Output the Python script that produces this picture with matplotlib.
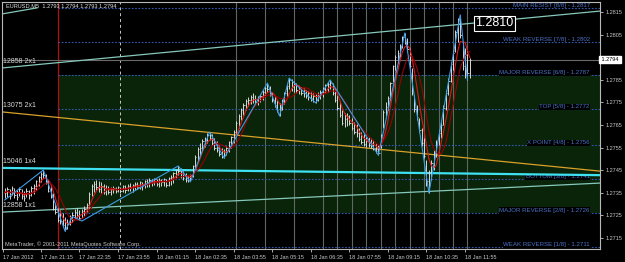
import numpy as np
import pandas as pd
import matplotlib
matplotlib.use('Agg')
import matplotlib.pyplot as plt

plt.rcParams['font.family'] = ['Liberation Sans', 'DejaVu Sans']

# EURUSD M5 bars from 17 Jan 2012 20:00
bar_high = [1.27371, 1.27375, 1.27366, 1.27380, 1.27371, 1.27362, 1.27375, 1.27366, 1.27358, 1.27371,
            1.27362, 1.27380, 1.27389, 1.27406, 1.27424, 1.27442, 1.27451, 1.27433, 1.27406, 1.27384,
            1.27349, 1.27305, 1.27287, 1.27273, 1.27260, 1.27242, 1.27233, 1.27251, 1.27264, 1.27278,
            1.27282, 1.27273, 1.27278, 1.27291, 1.27305, 1.27353, 1.27389, 1.27402, 1.27406, 1.27402,
            1.27397, 1.27389, 1.27384, 1.27380, 1.27375, 1.27380, 1.27375, 1.27380, 1.27375, 1.27384,
            1.27384, 1.27389, 1.27393, 1.27389, 1.27397, 1.27397, 1.27402, 1.27397, 1.27406, 1.27411,
            1.27415, 1.27411, 1.27415, 1.27411, 1.27415, 1.27411, 1.27415, 1.27411, 1.27420, 1.27429,
            1.27442, 1.27455, 1.27469, 1.27460, 1.27446, 1.27438, 1.27429, 1.27433, 1.27473, 1.27517,
            1.27552, 1.27570, 1.27588, 1.27597, 1.27615, 1.27619, 1.27610, 1.27593, 1.27579, 1.27557,
            1.27548, 1.27544, 1.27557, 1.27579, 1.27602, 1.27628, 1.27668, 1.27699, 1.27726, 1.27748,
            1.27765, 1.27774, 1.27783, 1.27792, 1.27783, 1.27779, 1.27788, 1.27805, 1.27823, 1.27836,
            1.27823, 1.27796, 1.27779, 1.27761, 1.27748, 1.27765, 1.27796, 1.27832, 1.27858, 1.27854,
            1.27845, 1.27836, 1.27823, 1.27819, 1.27814, 1.27805, 1.27801, 1.27796, 1.27792, 1.27788,
            1.27796, 1.27805, 1.27819, 1.27832, 1.27841, 1.27850, 1.27836, 1.27814, 1.27783, 1.27752,
            1.27717, 1.27703, 1.27703, 1.27695, 1.27681, 1.27664, 1.27655, 1.27637, 1.27619, 1.27610,
            1.27597, 1.27597, 1.27593, 1.27584, 1.27570, 1.27561, 1.27610, 1.27717, 1.27752, 1.27779,
            1.27841, 1.27916, 1.27960, 1.27983, 1.28009, 1.28045, 1.28058, 1.28036, 1.27991, 1.27903,
            1.27783, 1.27739, 1.27681, 1.27637, 1.27593, 1.27495, 1.27451, 1.27495, 1.27539, 1.27584,
            1.27628, 1.27664, 1.27739, 1.27805, 1.27858, 1.27930, 1.27983, 1.28071, 1.28124, 1.28138,
            1.28018, 1.27991, 1.27983, 1.27948]
bar_low = [1.27327, 1.27331, 1.27322, 1.27340, 1.27327, 1.27318, 1.27336, 1.27322, 1.27313, 1.27331,
           1.27322, 1.27336, 1.27344, 1.27362, 1.27380, 1.27398, 1.27415, 1.27389, 1.27353, 1.27327,
           1.27273, 1.27256, 1.27220, 1.27211, 1.27198, 1.27180, 1.27189, 1.27207, 1.27220, 1.27233,
           1.27238, 1.27229, 1.27238, 1.27247, 1.27260, 1.27282, 1.27336, 1.27353, 1.27362, 1.27353,
           1.27349, 1.27344, 1.27340, 1.27344, 1.27340, 1.27349, 1.27349, 1.27353, 1.27349, 1.27353,
           1.27349, 1.27358, 1.27358, 1.27353, 1.27362, 1.27366, 1.27366, 1.27362, 1.27371, 1.27375,
           1.27375, 1.27380, 1.27384, 1.27380, 1.27375, 1.27380, 1.27380, 1.27375, 1.27380, 1.27384,
           1.27393, 1.27415, 1.27429, 1.27415, 1.27406, 1.27398, 1.27398, 1.27402, 1.27420, 1.27460,
           1.27495, 1.27512, 1.27539, 1.27552, 1.27570, 1.27584, 1.27561, 1.27539, 1.27530, 1.27512,
           1.27504, 1.27504, 1.27517, 1.27530, 1.27548, 1.27570, 1.27597, 1.27637, 1.27672, 1.27695,
           1.27717, 1.27734, 1.27743, 1.27748, 1.27743, 1.27739, 1.27752, 1.27761, 1.27783, 1.27796,
           1.27779, 1.27752, 1.27730, 1.27708, 1.27690, 1.27717, 1.27743, 1.27779, 1.27810, 1.27801,
           1.27796, 1.27792, 1.27788, 1.27783, 1.27774, 1.27770, 1.27761, 1.27757, 1.27752, 1.27748,
           1.27757, 1.27765, 1.27774, 1.27792, 1.27796, 1.27810, 1.27783, 1.27752, 1.27717, 1.27686,
           1.27650, 1.27641, 1.27646, 1.27650, 1.27628, 1.27610, 1.27597, 1.27579, 1.27566, 1.27557,
           1.27552, 1.27552, 1.27548, 1.27539, 1.27526, 1.27517, 1.27548, 1.27637, 1.27690, 1.27717,
           1.27761, 1.27841, 1.27894, 1.27925, 1.27952, 1.27991, 1.28009, 1.27974, 1.27903, 1.27783,
           1.27708, 1.27672, 1.27619, 1.27557, 1.27504, 1.27380, 1.27349, 1.27406, 1.27451, 1.27508,
           1.27561, 1.27593, 1.27650, 1.27717, 1.27783, 1.27841, 1.27894, 1.27974, 1.28018, 1.28036,
           1.27894, 1.27858, 1.27850, 1.27858]
bar_close = [1.27350, 1.27365, 1.27335, 1.27370, 1.27340, 1.27330, 1.27368, 1.27336, 1.27325, 1.27360,
             1.27340, 1.27372, 1.27382, 1.27400, 1.27418, 1.27435, 1.27430, 1.27398, 1.27360, 1.27332,
             1.27280, 1.27265, 1.27230, 1.27225, 1.27208, 1.27190, 1.27210, 1.27235, 1.27250, 1.27265,
             1.27250, 1.27240, 1.27268, 1.27280, 1.27298, 1.27345, 1.27380, 1.27390, 1.27375, 1.27365,
             1.27378, 1.27355, 1.27368, 1.27352, 1.27365, 1.27372, 1.27356, 1.27374, 1.27360, 1.27378,
             1.27364, 1.27382, 1.27370, 1.27385, 1.27390, 1.27375, 1.27396, 1.27380, 1.27400, 1.27392,
             1.27408, 1.27395, 1.27410, 1.27390, 1.27406, 1.27396, 1.27410, 1.27386, 1.27415, 1.27422,
             1.27436, 1.27450, 1.27445, 1.27425, 1.27414, 1.27405, 1.27418, 1.27428, 1.27468, 1.27510,
             1.27545, 1.27550, 1.27580, 1.27585, 1.27608, 1.27592, 1.27570, 1.27548, 1.27540, 1.27520,
             1.27515, 1.27530, 1.27550, 1.27574, 1.27596, 1.27620, 1.27660, 1.27690, 1.27718, 1.27740,
             1.27758, 1.27760, 1.27776, 1.27765, 1.27752, 1.27770, 1.27780, 1.27798, 1.27815, 1.27810,
             1.27788, 1.27760, 1.27740, 1.27718, 1.27715, 1.27758, 1.27790, 1.27825, 1.27850, 1.27820,
             1.27835, 1.27805, 1.27816, 1.27794, 1.27806, 1.27780, 1.27790, 1.27768, 1.27780, 1.27760,
             1.27788, 1.27795, 1.27810, 1.27826, 1.27830, 1.27838, 1.27790, 1.27760, 1.27725, 1.27694,
             1.27660, 1.27675, 1.27688, 1.27660, 1.27638, 1.27620, 1.27615, 1.27588, 1.27575, 1.27565,
             1.27580, 1.27560, 1.27570, 1.27546, 1.27535, 1.27525, 1.27605, 1.27710, 1.27730, 1.27770,
             1.27835, 1.27910, 1.27950, 1.27970, 1.28000, 1.28040, 1.28020, 1.27985, 1.27910, 1.27795,
             1.27720, 1.27685, 1.27630, 1.27570, 1.27515, 1.27400, 1.27385, 1.27480, 1.27525, 1.27570,
             1.27615, 1.27650, 1.27725, 1.27790, 1.27845, 1.27920, 1.27970, 1.28060, 1.28100, 1.28050,
             1.27910, 1.27960, 1.27880, 1.27940]

start_time = '2012-01-17 20:00'

# zigzag swing points (bar number, price)
zz_bar = [0, 16, 25, 28, 32, 72, 77, 85, 91, 109, 114, 118, 129, 135, 155, 166, 176, 189, 192]
zz_price = [1.27318, 1.27451, 1.27180, 1.27245, 1.27225, 1.27469, 1.27398, 1.27619, 1.27504,
            1.27836, 1.27690, 1.27858, 1.27748, 1.27850, 1.27517, 1.28058, 1.27349, 1.28138, 1.27850]

# Murrey math levels
level_names = ['MAIN RESIST [8/8]', 'WEAK REVERSE [7/8]', 'MAJOR REVERSE [6/8]', 'TOP [5/8]',
               'X POINT [4/8]', 'BOTTOM [3/8]', 'MAJOR REVERSE [2/8]', 'WEAK REVERSE [1/8]']
level_prices = [1.2817, 1.2802, 1.2787, 1.2772, 1.2756, 1.2741, 1.2726, 1.2711]

# gann lines: label, price at bar 0 and at bar 193, colour
gann_labels = ['12858 2x1', '13075 2x1', '15046 1x4', '12858 1x1']
gann_p0 = [1.27904, 1.27707, 1.27460, 1.27265]
gann_p1 = [1.28100, 1.27503, 1.27435, 1.27365]
gann_colors = ['#86c8bc', '#d9a12a', '#3fe0f0', '#86c8bc']

bid = 1.2794
price_label = 1.2810
time_labels = ['17 Jan 2012', '17 Jan 21:15', '17 Jan 22:35', '17 Jan 23:55', '18 Jan 01:15',
               '18 Jan 02:35', '18 Jan 03:55', '18 Jan 05:15', '18 Jan 06:35', '18 Jan 07:55',
               '18 Jan 09:15', '18 Jan 10:35', '18 Jan 11:55']
session_lines = ['04:00', '05:00', '06:00', '07:00', '07:30', '08:00', '08:30', '09:00', '09:30',
                 '10:00', '10:30', '11:00', '11:30', '12:00']

t0 = pd.Timestamp(start_time)


def bar_of(hhmm, day='2012-01-18'):
    return (pd.Timestamp(day + ' ' + hhmm) - t0) / pd.Timedelta('5min')


n = len(bar_close)
idx = np.arange(n)
close = pd.Series(bar_close)

fig = plt.figure(figsize=(6.25, 2.62), dpi=100, facecolor='black')
ax = fig.add_axes([2 / 625, 13 / 262, 598 / 625, 247 / 262])
ax.set_facecolor('black')
ax.set_xlim(-1.16, 247.0)
ax.set_ylim(1.27101, 1.28195)
for s in ax.spines.values():
    s.set_color('#b8b8b8')
    s.set_linewidth(0.8)

red_bar = bar_of('21:50', '2012-01-17')
# green zone between the two major reverse levels
ax.fill_between([red_bar, 247.0], level_prices[6], level_prices[2], color='#092409', lw=0, zorder=0)

# vertical markers
ax.axvline(red_bar, color='#b01010', lw=0.9, zorder=1)
ax.axvline(bar_of('00:00'), color='#c8c8c8', lw=0.7, ls=(0, (3, 3)), zorder=1)
for t in session_lines:
    ax.axvline(bar_of(t), color='#606862', lw=0.8, zorder=1)

# levels
ytrans = ax.get_yaxis_transform()
for name, p in zip(level_names, level_prices):
    ax.hlines(p, red_bar, 247.0, color='#3558b0', lw=0.8, ls=(0, (1.5, 1.5)), zorder=1)
    ax.text(0.983, p, '%s - %.4f' % (name, p), transform=ytrans, ha='right', va='bottom',
            fontsize=4.4, color='#4c72c8', zorder=2,
            bbox=dict(boxstyle='square,pad=0.1', fc='black', ec='none'))

# bid line
ax.axhline(bid, color='#6a6a6a', lw=0.8, zorder=1)

# gann lines
for lab, p0, p1, c in zip(gann_labels, gann_p0, gann_p1, gann_colors):
    lw = 1.6 if c == '#3fe0f0' else 0.9
    ax.axline((0, p0), (193, p1), color=c, lw=lw, zorder=2)
    y_left = p0 + (p1 - p0) / 193 * (-1.16)
    ax.annotate(lab, (-1.16, y_left), xytext=(1, 2.2), textcoords='offset points',
                fontsize=5, color='#d8d8d8', ha='left', va='bottom', zorder=6)
ax.plot([-1.2, 13.4], [1.28142, 1.28169], color='#86c8bc', lw=0.9, zorder=2)

# bars
ax.vlines(idx, bar_low, bar_high, color='#d8d8d8', lw=0.7, zorder=3)
ax.hlines(bar_close, idx, idx + 0.55, color='#d8d8d8', lw=0.6, zorder=3)

# indicators
ax.plot(idx, close.rolling(5, min_periods=1).mean(), color='#e01818', lw=0.8, zorder=4)
ax.plot(idx, close.rolling(9, min_periods=1).mean(), color='#9a0000', lw=0.8, zorder=4)
ax.plot(zz_bar, zz_price, color='#3c9be6', lw=0.8, zorder=5)

# price label object
ax.text(195.3, price_label, '%.4f' % price_label, fontsize=9, color='white', ha='left',
        va='center', zorder=7,
        bbox=dict(boxstyle='square,pad=0.12', fc='black', ec='white', lw=0.8))

# price axis
ax.yaxis.tick_right()
yt = [1.2815, 1.2805, 1.2785, 1.2775, 1.2765, 1.2755, 1.2745, 1.2735, 1.2725, 1.2715]
ax.set_yticks(yt)
ax.set_yticklabels(['%.4f' % v for v in yt])
ax.tick_params(axis='y', colors='#c8c8c8', labelsize=4, length=2, width=0.6, pad=2)
ax.text(1.0, bid, ' %.4f ' % bid, transform=ytrans, fontsize=4, color='black', ha='left',
        va='center', clip_on=False, zorder=8,
        bbox=dict(boxstyle='square,pad=0.25', fc='white', ec='white'))

# time axis
xt = [(pd.Timestamp('2012 ' + lab[:6] + (' 20:00' if '2012' in lab else lab[6:])) - t0)
      / pd.Timedelta('5min') for lab in time_labels]
xt[0] = -0.7
ax.set_xticks(xt)
ax.set_xticklabels(time_labels, ha='left')
ax.tick_params(axis='x', colors='#c8c8c8', labelsize=4, length=2.5, width=0.6, pad=1.5)

fig.text(6 / 625, 1 - 6 / 262, 'EURUSD,M5  1.2793 1.2794 1.2793 1.2794', fontsize=4.1,
         color='#e0e0e0', ha='left', va='center')
ax.text(0.005, 0.02, 'MetaTrader, \u00a9 2001-2011 MetaQuotes Software Corp.', transform=ax.transAxes,
        fontsize=4.1, color='#c8c8c8', ha='left', va='center', zorder=8)

fig.savefig('out.png', dpi=100, facecolor='black')
